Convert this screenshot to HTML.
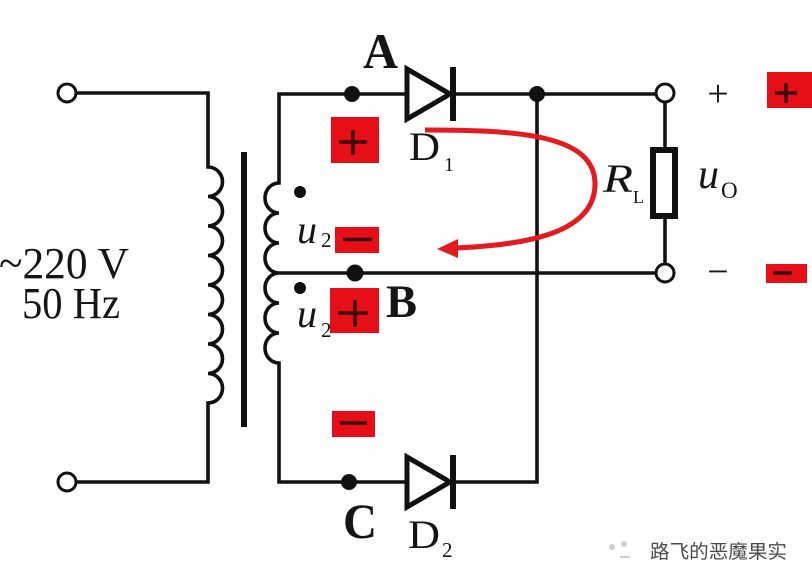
<!DOCTYPE html>
<html>
<head>
<meta charset="utf-8">
<style>
html,body{margin:0;padding:0;background:#fefefe;}
svg{display:block;}
text{font-family:"Liberation Serif","Times New Roman",serif;fill:#151515;}
text.cjk{font-family:"Liberation Sans","Noto Sans CJK SC",sans-serif;}
</style>
</head>
<body>
<svg width="812" height="584" viewBox="0 0 812 584" xmlns="http://www.w3.org/2000/svg">
<rect x="0" y="0" width="812" height="584" fill="#fefefe"/>
<g fill="none" stroke="#111" stroke-width="3.6" stroke-linejoin="miter">
  <path d="M77,93 H208 V167 a14.5,14.75 0 0 1 0,29.5 a14.5,14.75 0 0 1 0,29.5 a14.5,14.75 0 0 1 0,29.5 a14.5,14.75 0 0 1 0,29.5 a14.5,14.75 0 0 1 0,29.5 a14.5,14.75 0 0 1 0,29.5 a14.5,14.75 0 0 1 0,29.5 a14.5,14.75 0 0 1 0,29.5 V482 H77"/>
  <path d="M407,94 H279 V183 a14,15 0 0 0 0,30 a14,15 0 0 0 0,30 a14,15 0 0 0 0,30 a14,15 0 0 0 0,30 a14,15 0 0 0 0,30 a14,15 0 0 0 0,30 V482 H407"/>
  <path d="M279,273 H665"/>
  <path d="M453,94 H665 V273"/>
  <path d="M537,94 V482 H453"/>
</g>
<rect x="241" y="152" width="6" height="275" fill="#111"/>
<g stroke="#111" fill="#fefefe" stroke-width="5" stroke-linejoin="miter">
  <polygon points="407,69 407,119 450,94"/>
  <polygon points="407,457 407,507 450,482"/>
</g>
<g stroke="#111" stroke-width="6">
  <line x1="453" y1="67" x2="453" y2="121"/>
  <line x1="453" y1="455" x2="453" y2="509"/>
</g>
<rect x="653" y="150" width="22" height="66" fill="#fefefe" stroke="#111" stroke-width="6"/>
<g fill="#111">
  <circle cx="352" cy="94" r="8"/>
  <circle cx="537" cy="94" r="8"/>
  <circle cx="355" cy="273" r="8.5"/>
  <circle cx="349" cy="482" r="8"/>
  <circle cx="300" cy="192" r="6"/>
  <circle cx="300" cy="288" r="6"/>
</g>
<g fill="#fefefe" stroke="#111" stroke-width="3">
  <circle cx="67" cy="93" r="9"/>
  <circle cx="67" cy="482" r="9"/>
  <circle cx="665" cy="93" r="9"/>
  <circle cx="665" cy="273" r="9"/>
</g>
<g fill="#e60f18">
  <rect x="331" y="117" width="48" height="46"/>
  <rect x="335" y="227" width="44" height="26"/>
  <rect x="330" y="288" width="49" height="45"/>
  <rect x="332" y="411" width="43" height="26"/>
  <rect x="767" y="72" width="45" height="36"/>
  <rect x="766" y="264" width="41" height="19"/>
</g>
<g stroke="#3a0808" stroke-width="3.5">
  <line x1="339" y1="142" x2="367" y2="142"/>
  <line x1="353" y1="130" x2="353" y2="155"/>
  <line x1="343" y1="239.5" x2="372" y2="239.5"/>
  <line x1="338" y1="313" x2="368" y2="313"/>
  <line x1="355" y1="300" x2="355" y2="327"/>
  <line x1="340" y1="423" x2="367" y2="423"/>
  <line x1="775" y1="93" x2="797" y2="93"/>
  <line x1="786" y1="83" x2="786" y2="103"/>
  <line x1="773" y1="273" x2="792" y2="273"/>
</g>
<path d="M425,130 C520,130 595,135 595,184 C595,232 530,245 454,248" fill="none" stroke="#e31a1f" stroke-width="5"/>
<polygon points="437,249 458,239 458,258" fill="#e31a1f"/>
<text x="-1" y="278" font-size="44" textLength="130" lengthAdjust="spacingAndGlyphs">~220 V</text>
<text x="22" y="318" font-size="44" textLength="98" lengthAdjust="spacingAndGlyphs">50 Hz</text>
<text x="363" y="68" font-size="50" font-weight="bold" textLength="35" lengthAdjust="spacingAndGlyphs">A</text>
<text x="386" y="317" font-size="47" font-weight="bold" textLength="31" lengthAdjust="spacingAndGlyphs">B</text>
<text x="343" y="538" font-size="50" font-weight="bold" textLength="34" lengthAdjust="spacingAndGlyphs">C</text>
<text x="409" y="160" font-size="40" textLength="31" lengthAdjust="spacingAndGlyphs">D</text>
<text x="444" y="171" font-size="20">1</text>
<text x="408" y="548" font-size="40" textLength="32" lengthAdjust="spacingAndGlyphs">D</text>
<text x="442" y="557" font-size="21">2</text>
<text x="297" y="243" font-size="40" font-style="italic">u</text>
<text x="321" y="247" font-size="21">2</text>
<text x="297" y="327" font-size="40" font-style="italic">u</text>
<text x="321" y="337" font-size="21">2</text>
<text x="603" y="192" font-size="40" font-style="italic" textLength="30" lengthAdjust="spacingAndGlyphs">R</text>
<text x="633" y="203" font-size="18">L</text>
<text x="698" y="188" font-size="42" font-style="italic">u</text>
<text x="721" y="198" font-size="23">O</text>
<text x="718" y="106" font-size="38" text-anchor="middle">+</text>
<text x="718" y="284" font-size="38" text-anchor="middle">−</text>
<g fill="#cfcfcf">
  <circle cx="612" cy="547" r="3"/>
  <circle cx="624" cy="544" r="3"/>
  <rect x="620" y="556" width="10" height="2"/>
</g>
<text class="cjk" x="650" y="558" font-size="19" textLength="137" lengthAdjust="spacingAndGlyphs" style="fill:#4a4a4a">路飞的恶魔果实</text>
</svg>
</body>
</html>
